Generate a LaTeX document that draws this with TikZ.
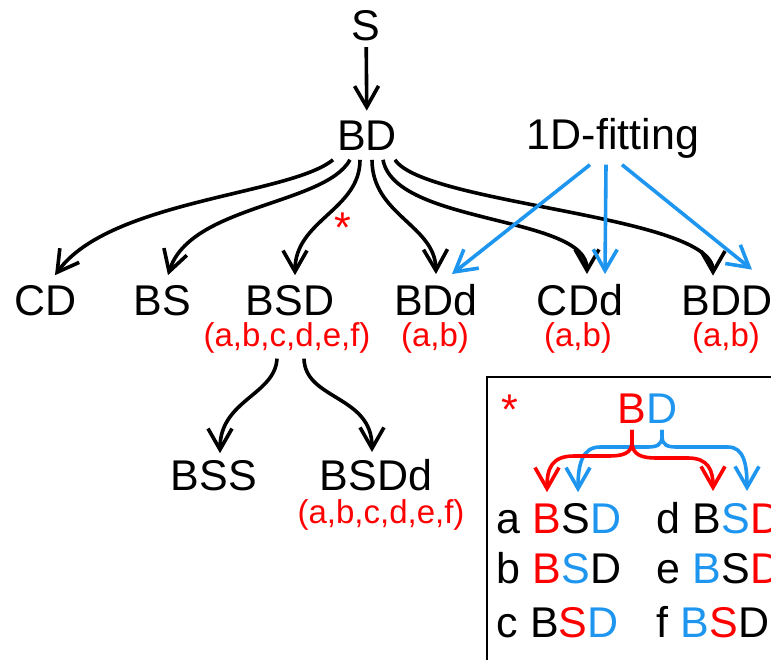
\documentclass[tikz,border=0pt]{standalone}
\usepackage{fontspec}
\setmainfont{Liberation Sans}
\usetikzlibrary{arrows.meta}
\definecolor{cred}{HTML}{FF0000}
\definecolor{cblue}{HTML}{1E96F0}
\tikzset{
  every picture/.style={line width=1.8pt},
  lbl/.style={font=\fontsize{21.5}{25}\selectfont, inner sep=2.5pt, anchor=base},
  sub/.style={font=\fontsize{16.5}{20}\selectfont, text=cred, inner sep=2pt, anchor=base},
  row/.style={font=\fontsize{21.5}{26}\selectfont, inner sep=2.5pt, anchor=base west},
  arrow/.style={-{Straight Barb[length=10.5pt, width=12pt]}, line width=1.8pt},
  fitarrow/.style={arrow, draw=cblue},
}

\begin{document}
\begin{tikzpicture}[x=0.5pt, y=-0.5pt]
  \useasboundingbox (0,0) rectangle (771,659);
  \clip (0,0) rectangle (771,659);
  % top
  \node[lbl] (S) at (366,40) {S};
  \node[lbl, inner ysep=4pt] (BD) at (367,150) {BD};
  \node[lbl] (fit) at (613,149) {1D-fitting};
  % first row
  \node[lbl] (CD) at (46,315) {CD};
  \node[lbl] (BS) at (162,315) {BS};
  \node[lbl] (BSD) at (290,315) {BSD};
  \node[lbl] (BDd) at (436,315) {BDd};
  \node[lbl] (CDd) at (580,315) {CDd};
  \node[lbl] (BDD) at (727,315) {BDD};
  \node[sub] (sBSD) at (287,346) {(a,b,c,d,e,f)};
  \node[sub] (sBDd) at (435,346) {(a,b)};
  \node[sub] (sCDd) at (578,346) {(a,b)};
  \node[sub] (sBDD) at (726,346) {(a,b)};
  \node[lbl, text=cred] (star) at (343,242) {*};
  % second row
  \node[lbl] (BSS) at (214,490) {BSS};
  \node[lbl] (BSDd) at (376,490) {BSDd};
  \node[sub] (sBSDd) at (381,523) {(a,b,c,d,e,f)};

  \draw[arrow] (S) -- (BD);
  \draw[arrow] ([xshift=-17pt]BD.south) .. controls (290,195) and (110,200) .. ([xshift=4.5pt,yshift=1.5pt]CD.north);
  \draw[arrow] ([xshift=-8.5pt]BD.south) .. controls (325,205) and (190,205) .. ([xshift=3pt,yshift=1.5pt]BS.north);
  \draw[arrow] ([xshift=-3.5pt]BD.south) .. controls (360,210) and (295,220) .. ([xshift=2.5pt,yshift=1.5pt]BSD.north);
  \draw[arrow] ([xshift=2.5pt]BD.south) .. controls (372,215) and (435,225) .. ([yshift=1.5pt]BDd.north);
  \draw[arrow] ([xshift=8pt]BD.south) .. controls (395,225) and (587,215) .. ([xshift=3.5pt,yshift=1.5pt]CDd.north);
  \draw[arrow] ([xshift=14pt]BD.south) .. controls (425,205) and (713,215) .. ([xshift=-7pt,yshift=1.5pt]BDD.north);
  \draw[fitarrow] ([xshift=-11.5pt]fit.south) -- ([xshift=8pt,yshift=1.5pt]BDd.north);
  \draw[fitarrow] ([xshift=-3.5pt]fit.south) -- ([xshift=12.5pt,yshift=1.5pt]CDd.north);
  \draw[fitarrow] ([xshift=4.5pt]fit.south) -- ([xshift=12.5pt,yshift=4.5pt]BDD.north);
  \draw[arrow] ([xshift=-5pt]sBSD.south) .. controls (275,395) and (220,400) .. ([xshift=3pt]BSS.north);
  \draw[arrow] ([xshift=8.5pt]sBSD.south) .. controls (305,400) and (372,395) .. ([xshift=-2pt]BSDd.north);

  % inset
  \draw[line width=1pt] (487,377) rectangle (790,680);
  \node[lbl, text=cred] (istar) at (510,424) {*};
  \node[lbl, text=cred] (iB) at (632,423) {B};
  \node[lbl, text=cblue] (iD) at (662,423) {D};
  \node[row] (ra) at (490,533) {a {\color{cred}B}S{\color{cblue}D}};
  \node[row] (rb) at (490,583) {b {\color{cred}B}{\color{cblue}S}D};
  \node[row] (rc) at (490,637) {c B{\color{cred}S}{\color{cblue}D}};
  \node[row] (rd) at (650,533) {d B{\color{cblue}S}{\color{cred}D}};
  \node[row] (re) at (650,583) {e {\color{cblue}B}S{\color{cred}D}};
  \node[row] (rf) at (650,637) {f {\color{cblue}B}{\color{cred}S}D};

  \draw[fitarrow] (iD.south) -- (662,436) .. controls (662,446) and (656,447) .. (646,447) -- (600,447) .. controls (582,447) and (578,465) .. ([xshift=44pt,yshift=2pt]ra.north west);
  \draw[fitarrow] (iD.south) -- (662,436) .. controls (662,446) and (668,447) .. (678,447) -- (728,447) .. controls (744,447) and (747,465) .. ([xshift=48.5pt,yshift=2pt]rd.north west);
  \draw[arrow, draw=cred] (iB.south) -- (632,442) .. controls (632,454) and (622,456) .. (608,456) -- (574,456) .. controls (552,456) and (547,468) .. ([xshift=28.5pt,yshift=2pt]ra.north west);
  \draw[arrow, draw=cred] (iB.south) -- (632,442) .. controls (632,455) and (642,458) .. (656,458) -- (688,458) .. controls (708,458) and (713,470) .. ([xshift=31.5pt,yshift=2pt]rd.north west);
\end{tikzpicture}
\end{document}
